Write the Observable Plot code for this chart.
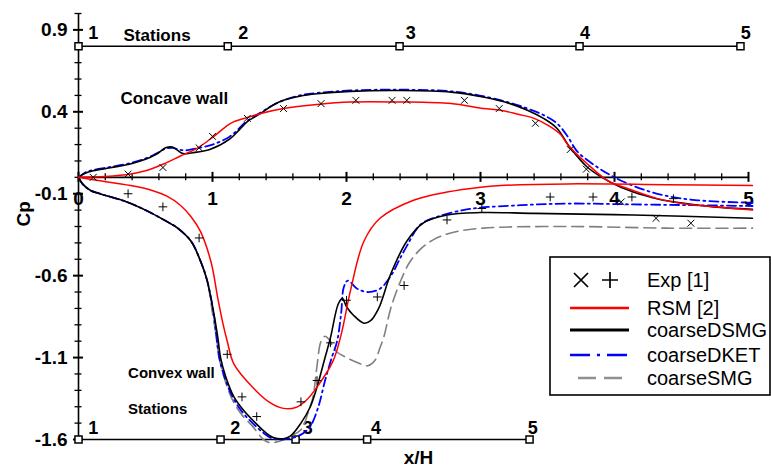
<!DOCTYPE html>
<html>
<head>
<meta charset="utf-8">
<script src="https://cdn.jsdelivr.net/npm/d3@7"></script>
<script src="https://cdn.jsdelivr.net/npm/@observablehq/plot@0.6"></script>
<style>
  html, body { margin: 0; padding: 0; background: #fff; }
  #wrap { position: relative; width: 771px; height: 468px; overflow: hidden; font-family: "Liberation Sans", Arial, sans-serif; }
  #legend { position: absolute; left: 549px; top: 256px; }
</style>
</head>
<body>
<div id="wrap"></div>
<script>
// ---------- data: [x/H, Cp] ----------
const rsmConcave = [[0,0],[0.2,0.005],[0.39,0.02],[0.5,0.04],[0.63,0.08],[0.76,0.13],[0.89,0.18],[1.01,0.25],[1.1,0.31],[1.16,0.34],[1.28,0.37],[1.36,0.39],[1.53,0.42],[1.78,0.445],[2.03,0.46],[2.4,0.46],[2.78,0.45],[3.02,0.42],[3.15,0.41],[3.28,0.385],[3.4,0.36],[3.52,0.31],[3.6,0.26],[3.65,0.2],[3.72,0.14],[3.8,0.08],[3.95,-0.02],[4.14,-0.08],[4.32,-0.13],[4.5,-0.16],[4.75,-0.18],[5.03,-0.2]];
const rsmConvex = [[0,0],[0.11,-0.015],[0.39,-0.05],[0.55,-0.08],[0.66,-0.115],[0.76,-0.17],[0.84,-0.24],[0.91,-0.33],[0.99,-0.52],[1.04,-0.74],[1.08,-0.9],[1.11,-1.0],[1.16,-1.14],[1.31,-1.29],[1.42,-1.37],[1.53,-1.41],[1.62,-1.405],[1.7,-1.36],[1.78,-1.28],[1.9,-1.12],[1.96,-0.96],[2.03,-0.69],[2.13,-0.39],[2.25,-0.25],[2.5,-0.14],[2.75,-0.09],[3.0,-0.06],[3.15,-0.05],[3.65,-0.04],[4.39,-0.045],[5.03,-0.05]];
const dsmgConcave = [[0,0],[0.05,0.025],[0.11,0.04],[0.25,0.06],[0.4,0.085],[0.5,0.11],[0.58,0.14],[0.65,0.18],[0.7,0.185],[0.74,0.165],[0.78,0.145],[0.85,0.15],[0.98,0.17],[1.13,0.235],[1.2,0.29],[1.26,0.34],[1.36,0.39],[1.45,0.44],[1.53,0.47],[1.65,0.495],[1.78,0.51],[2.03,0.525],[2.4,0.53],[2.78,0.52],[3.02,0.49],[3.22,0.45],[3.35,0.41],[3.47,0.36],[3.57,0.3],[3.67,0.18],[3.8,0.06],[3.97,-0.03],[4.14,-0.09],[4.34,-0.135],[4.49,-0.155],[4.74,-0.18],[5.03,-0.195]];
const dsmgConvex = [[0,0],[0.03,-0.04],[0.09,-0.08],[0.16,-0.1],[0.36,-0.15],[0.5,-0.2],[0.66,-0.27],[0.74,-0.31],[0.84,-0.39],[0.91,-0.51],[0.96,-0.63],[1.01,-0.83],[1.04,-0.98],[1.06,-1.1],[1.1,-1.22],[1.16,-1.34],[1.23,-1.42],[1.31,-1.49],[1.4,-1.56],[1.46,-1.59],[1.53,-1.595],[1.58,-1.58],[1.66,-1.5],[1.73,-1.4],[1.78,-1.28],[1.84,-1.1],[1.88,-0.98],[1.94,-0.77],[1.97,-0.74],[2.0,-0.79],[2.05,-0.84],[2.13,-0.89],[2.18,-0.875],[2.24,-0.8],[2.33,-0.59],[2.45,-0.39],[2.57,-0.28],[2.75,-0.23],[3.0,-0.215],[3.4,-0.22],[4.14,-0.23],[5.03,-0.25]];
const dketConcave = [[0,0],[0.05,0.03],[0.11,0.045],[0.25,0.065],[0.4,0.09],[0.5,0.115],[0.58,0.145],[0.65,0.175],[0.7,0.18],[0.75,0.17],[0.8,0.165],[0.9,0.18],[1.0,0.2],[1.13,0.25],[1.26,0.345],[1.36,0.395],[1.45,0.44],[1.53,0.47],[1.65,0.5],[1.78,0.515],[2.03,0.53],[2.4,0.535],[2.78,0.525],[3.02,0.495],[3.22,0.455],[3.35,0.42],[3.47,0.38],[3.57,0.33],[3.65,0.25],[3.72,0.16],[3.84,0.08],[4.0,0.0],[4.2,-0.07],[4.37,-0.11],[4.62,-0.14],[5.03,-0.155]];
const dketConvex = [[0,0],[0.03,-0.04],[0.09,-0.08],[0.16,-0.1],[0.36,-0.15],[0.5,-0.2],[0.66,-0.27],[0.74,-0.31],[0.84,-0.39],[0.91,-0.51],[0.96,-0.63],[1.01,-0.84],[1.03,-0.98],[1.05,-1.1],[1.09,-1.22],[1.15,-1.34],[1.22,-1.43],[1.3,-1.5],[1.38,-1.56],[1.45,-1.595],[1.52,-1.6],[1.6,-1.59],[1.68,-1.56],[1.73,-1.52],[1.79,-1.4],[1.84,-1.24],[1.89,-1.1],[1.93,-1.0],[1.96,-0.83],[1.98,-0.67],[2.01,-0.63],[2.08,-0.68],[2.16,-0.7],[2.25,-0.68],[2.34,-0.59],[2.39,-0.51],[2.45,-0.42],[2.55,-0.29],[2.68,-0.24],[2.87,-0.2],[3.0,-0.185],[3.3,-0.17],[3.65,-0.16],[4.14,-0.165],[4.6,-0.17],[5.03,-0.175]];
const smgConvex = [[0,0],[0.03,-0.04],[0.09,-0.08],[0.16,-0.1],[0.36,-0.15],[0.5,-0.2],[0.66,-0.27],[0.74,-0.31],[0.84,-0.39],[0.91,-0.51],[0.96,-0.63],[1.0,-0.83],[1.03,-0.98],[1.05,-1.1],[1.09,-1.23],[1.15,-1.36],[1.22,-1.45],[1.3,-1.52],[1.38,-1.6],[1.43,-1.62],[1.5,-1.61],[1.58,-1.58],[1.66,-1.54],[1.72,-1.42],[1.75,-1.34],[1.78,-1.15],[1.81,-1.0],[1.84,-0.97],[1.87,-0.99],[1.92,-1.06],[2.0,-1.1],[2.08,-1.13],[2.16,-1.15],[2.21,-1.12],[2.25,-1.04],[2.28,-0.97],[2.33,-0.8],[2.4,-0.64],[2.47,-0.52],[2.55,-0.44],[2.65,-0.38],[2.8,-0.335],[3.02,-0.31],[3.65,-0.3],[4.39,-0.31],[5.03,-0.31]];
const expConcave = [[0.11,0.0],[0.37,0.02],[0.63,0.06],[0.9,0.18],[1.0,0.25],[1.26,0.36],[1.53,0.42],[1.81,0.45],[2.07,0.47],[2.34,0.47],[2.45,0.47],[2.88,0.47],[3.14,0.42],[3.41,0.33],[3.67,0.17],[3.79,0.05],[4.05,-0.15],[4.31,-0.25],[4.57,-0.28]];
const expConvex = [[0.37,-0.1],[0.63,-0.18],[0.9,-0.37],[1.11,-1.08],[1.22,-1.34],[1.33,-1.46],[1.66,-1.37],[1.78,-1.24],[1.88,-1.01],[2.0,-0.75],[2.23,-0.73],[2.43,-0.66],[2.75,-0.26],[3.01,-0.19],[3.52,-0.12],[3.84,-0.12],[4.13,-0.12],[4.44,-0.13]];

const xTickLabels = [0, 1, 2, 3, 4, 5];
const yTickLabels = [0.9, 0.4, -0.1, -0.6, -1.1, -1.6];
const topStationX = [0, 1.114, 2.396, 3.739, 4.94];
const topStationLabelX = [0.11, 1.23, 2.48, 3.78, 4.98];
const bottomStationX = [0, 1.06, 1.62, 2.154, 3.366];
const bottomStationLabelX = [0.11, 1.17, 1.71, 2.22, 3.39];
const stationNames = ["1", "2", "3", "4", "5"];
const topStationCp = 0.8;
const bottomStationCp = -1.6;

const legendItems = ["Exp [1]", "RSM [2]", "coarseDSMG", "coarseDKET", "coarseSMG"];

// ---------- helpers ----------
const pts = a => a.map(([x, y]) => ({x, y}));
const xMinor = d3.range(0, 5.0001, 0.2).map(v => +v.toFixed(2));
const yMinor = d3.range(-1.6, 1.0001, 0.1).map(v => +v.toFixed(2));
const isInt = v => Math.abs(v - Math.round(v)) < 1e-6;
const yMajor = v => yTickLabels.some(t => Math.abs(t - v) < 1e-6);
const pxX = 134, pxY = 164; // px per unit (for tick lengths only)

const lineOpts = (stroke, sw, dash) => ({x: "x", y: "y", stroke, strokeWidth: sw, strokeDasharray: dash, curve: "catmull-rom"});

const chart = Plot.plot({
  width: 771, height: 468,
  marginLeft: 78, marginRight: 23, marginTop: 13, marginBottom: 29,
  x: {domain: [0, 5], axis: null},
  y: {domain: [-1.6, 1.0], axis: null},
  style: {fontFamily: "'Liberation Sans', Arial, sans-serif", background: "white", overflow: "visible"},
  marks: [
    // axes lines
    Plot.ruleY([0], {x1: 0, x2: 5, stroke: "black", strokeWidth: 1.6}),
    Plot.ruleX([0], {y1: -1.6, y2: 1.0, stroke: "black", strokeWidth: 1.6}),
    // x ticks
    Plot.ruleX(xMinor, {x: d => d, y1: d => isInt(d) ? -5/pxY : -3.5/pxY, y2: d => isInt(d) ? 5/pxY : 3.5/pxY, stroke: "black", strokeWidth: d => isInt(d) ? 2 : 1.3}),
    // y ticks
    Plot.ruleY(yMinor, {y: d => d, x1: d => yMajor(d) ? -5/pxX : -3.5/pxX, x2: d => yMajor(d) ? 5/pxX : 3.5/pxX, stroke: "black", strokeWidth: d => yMajor(d) ? 2 : 1.3}),
    // tick labels
    Plot.text(xTickLabels, {x: d => d, y: 0, text: d => String(d), dy: 22, fontSize: 19, fontWeight: "bold", fill: "black"}),
    Plot.text(yTickLabels, {x: 0, y: d => d, text: d => d.toFixed(1), dx: -11, textAnchor: "end", fontSize: 19, fontWeight: "bold", fill: "black"}),
    // axis titles
    Plot.text(["x/H"], {frameAnchor: "bottom", dy: 24, dx: 5, fontSize: 19, fontWeight: "bold", fill: "black"}),
    Plot.text(["Cp"], {frameAnchor: "left", dx: -55, rotate: -90, fontSize: 19, fontWeight: "bold", fill: "black"}),
    // station lines
    Plot.ruleY([topStationCp], {x1: topStationX[0], x2: topStationX[topStationX.length - 1], stroke: "black", strokeWidth: 1.6}),
    Plot.ruleY([bottomStationCp], {x1: bottomStationX[0], x2: bottomStationX[bottomStationX.length - 1], stroke: "black", strokeWidth: 1.6}),
    Plot.dot(topStationX, {x: d => d, y: topStationCp, symbol: "square", r: 4, fill: "white", stroke: "black", strokeWidth: 1.5}),
    Plot.dot(bottomStationX, {x: d => d, y: bottomStationCp, symbol: "square", r: 4, fill: "white", stroke: "black", strokeWidth: 1.5}),
    Plot.text(topStationLabelX, {x: d => d, y: topStationCp, text: (d, i) => stationNames[i], dy: -13, fontSize: 18, fontWeight: "bold", fill: "black"}),
    Plot.text(bottomStationLabelX, {x: d => d, y: bottomStationCp, text: (d, i) => stationNames[i], dy: -11, fontSize: 18, fontWeight: "bold", fill: "black"}),
    // annotations
    Plot.text(["Stations"], {x: 0.336, y: 0.863, textAnchor: "start", fontSize: 17, fontWeight: "bold", fill: "black"}),
    Plot.text(["Concave wall"], {x: 0.313, y: 0.479, textAnchor: "start", fontSize: 17, fontWeight: "bold", fill: "black"}),
    Plot.text(["Convex wall"], {x: 0.37, y: -1.198, textAnchor: "start", fontSize: 15, fontWeight: "bold", fill: "black"}),
    Plot.text(["Stations"], {x: 0.37, y: -1.417, textAnchor: "start", fontSize: 15, fontWeight: "bold", fill: "black"}),
    // curves
    Plot.line(pts(smgConvex), lineOpts("#808080", 1.6, "12,6")),
    Plot.line(pts(dketConcave), lineOpts("#0000ff", 1.8, "9,4,2,4")),
    Plot.line(pts(dketConvex), lineOpts("#0000ff", 1.8, "9,4,2,4")),
    Plot.line(pts(dsmgConcave), lineOpts("black", 1.6)),
    Plot.line(pts(dsmgConvex), lineOpts("black", 1.6)),
    Plot.line(pts(rsmConcave), lineOpts("#ff0000", 1.5)),
    Plot.line(pts(rsmConvex), lineOpts("#ff0000", 1.5)),
    // experiments
    Plot.dot(pts(expConcave), {x: "x", y: "y", symbol: "times", r: 3.2, stroke: "black", strokeWidth: 1}),
    Plot.dot(pts(expConvex), {x: "x", y: "y", symbol: "plus", r: 2.9, stroke: "black", strokeWidth: 1})
  ]
});

const wrap = document.getElementById("wrap");
wrap.appendChild(chart);

// ---------- legend ----------
const lw = 221, lh = 139;
const lg = d3.select(wrap).append("svg").attr("id", "legend")
  .attr("width", lw + 2).attr("height", lh + 2)
  .style("font-family", "'Liberation Sans', Arial, sans-serif");
lg.append("rect").attr("x", 1).attr("y", 1).attr("width", lw - 1).attr("height", lh - 1)
  .attr("fill", "white").attr("stroke", "black").attr("stroke-width", 1.6);
const rowY = [24, 52, 74, 99, 122];
// symbols row
const g0 = lg.append("g").attr("stroke", "black").attr("stroke-width", 1.7);
g0.append("path").attr("d", `M${32-7},${rowY[0]-7}L${32+7},${rowY[0]+7}M${32-7},${rowY[0]+7}L${32+7},${rowY[0]-7}`);
g0.append("path").attr("d", `M${61-8},${rowY[0]}L${61+8},${rowY[0]}M${61},${rowY[0]-8}L${61},${rowY[0]+8}`);
const sampleStyles = [null,
  {stroke: "#ff0000", w: 2.6, dash: null, x1: 21, x2: 80},
  {stroke: "black", w: 3, dash: null, x1: 21, x2: 80},
  {stroke: "#0000ff", w: 2.6, dash: "20,7,3,7", x1: 21, x2: 80},
  {stroke: "#909090", w: 2.6, dash: "18,8", x1: 29, x2: 78}];
sampleStyles.forEach((s, i) => {
  if (!s) return;
  lg.append("line").attr("x1", s.x1).attr("x2", s.x2).attr("y1", rowY[i]).attr("y2", rowY[i])
    .attr("stroke", s.stroke).attr("stroke-width", s.w).attr("stroke-dasharray", s.dash);
});
legendItems.forEach((t, i) => {
  lg.append("text").attr("x", 98).attr("y", rowY[i]).attr("dy", "0.35em")
    .attr("font-size", 20).attr("fill", "black").text(t);
});
</script>
</body>
</html>
